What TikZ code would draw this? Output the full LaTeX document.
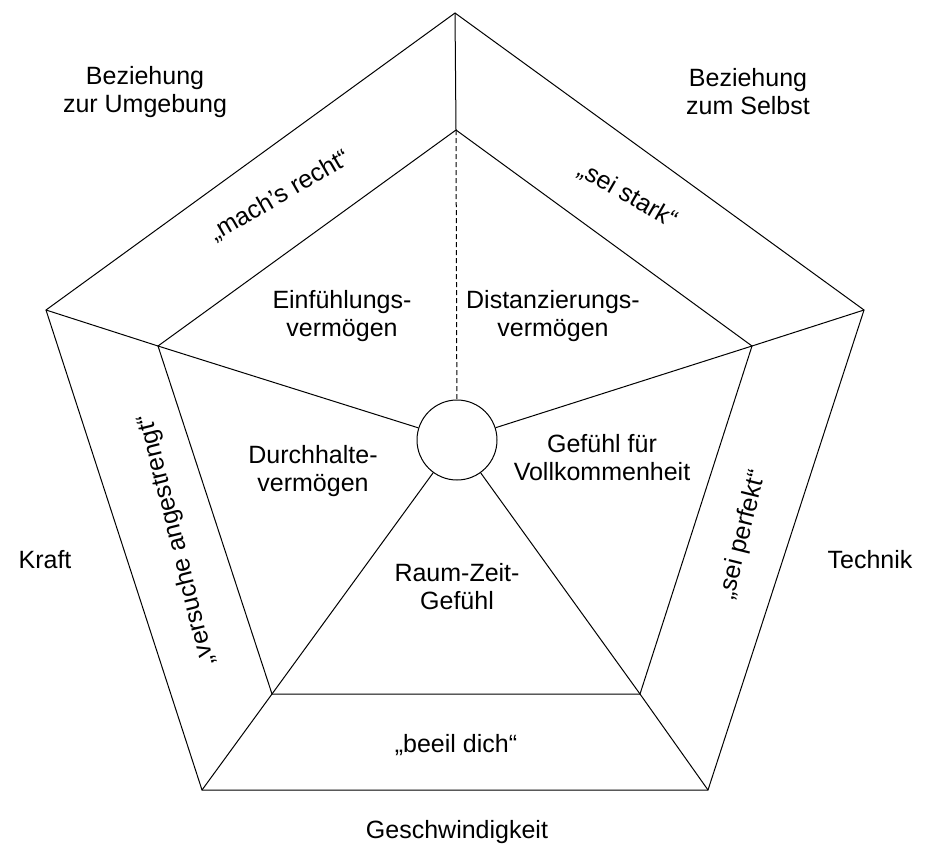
\documentclass[tikz,border=0pt]{standalone}
\usepackage{fontspec}
\setmainfont{Liberation Sans}

\begin{document}
\begin{tikzpicture}[x=1pt, y=-1pt, line width=1pt,
    txt/.style={align=center, inner sep=0pt, font=\fontsize{25}{28}\selectfont},
    hubnode/.style={circle, draw, minimum size=80pt, inner sep=0pt}]
    \useasboundingbox (0,0) rectangle (933,852);
    \coordinate (T) at (455,13);
    \coordinate (UR) at (864,310);
    \coordinate (LR) at (708,790);
    \coordinate (LL) at (202,790);
    \coordinate (UL) at (46,310);
    \coordinate (t) at (456,130);
    \coordinate (r) at (752,346);
    \coordinate (br) at (640,694);
    \coordinate (bl) at (272,694);
    \coordinate (l) at (158,346);
    \node [hubnode] (hub) at (457,440) {};
    \draw [-] (T) to (UR) to (LR) to (LL) to (UL) -- cycle;
    \draw [-] (t) to (r) to (br) to (bl) to (l) -- cycle;
    \foreach \a/\b in {T/t,UR/r,LR/br,LL/bl,UL/l}
        \draw (\a) -- (\b);
    \foreach \v in {l,r,bl,br}
        \draw (\v) -- (hub);
    \draw [dash pattern=on 5pt off 3pt] (t) -- (hub);
    \node [txt] (umgebung) at (145,92) {Beziehung\\zur Umgebung};
    \node [txt] (selbst) at (748,92) {Beziehung\\zum Selbst};
    \node [txt] (kraft) at (45,560) {Kraft};
    \node [txt] (technik) at (870,560) {Technik};
    \node [txt] (tempo) at (457,832) {Geschwindigkeit};
    \node [txt] (einfuehlung) at (342,316) {Einfühlungs-\\vermögen};
    \node [txt] (distanz) at (553,316) {Distanzierungs-\\vermögen};
    \node [txt] (durchhalte) at (313,471) {Durchhalte-\\vermögen};
    \node [txt] (vollkommen) at (602,458) {Gefühl für\\Vollkommenheit};
    \node [txt] (raumzeit) at (457,587) {Raum-Zeit-\\Gefühl};
    \node [txt, rotate=30] (machrecht) at (280,196) {„mach’s recht“};
    \node [txt, rotate=-30] (seistark) at (628,195) {„sei stark“};
    \node [txt, rotate=104] (versuche) at (177,540) {„versuche angestrengt“};
    \node [txt, rotate=76] (perfekt) at (743,535) {„sei perfekt“};
    \node [txt] (beeil) at (456,745) {„beeil dich“};
\end{tikzpicture}
\end{document}
